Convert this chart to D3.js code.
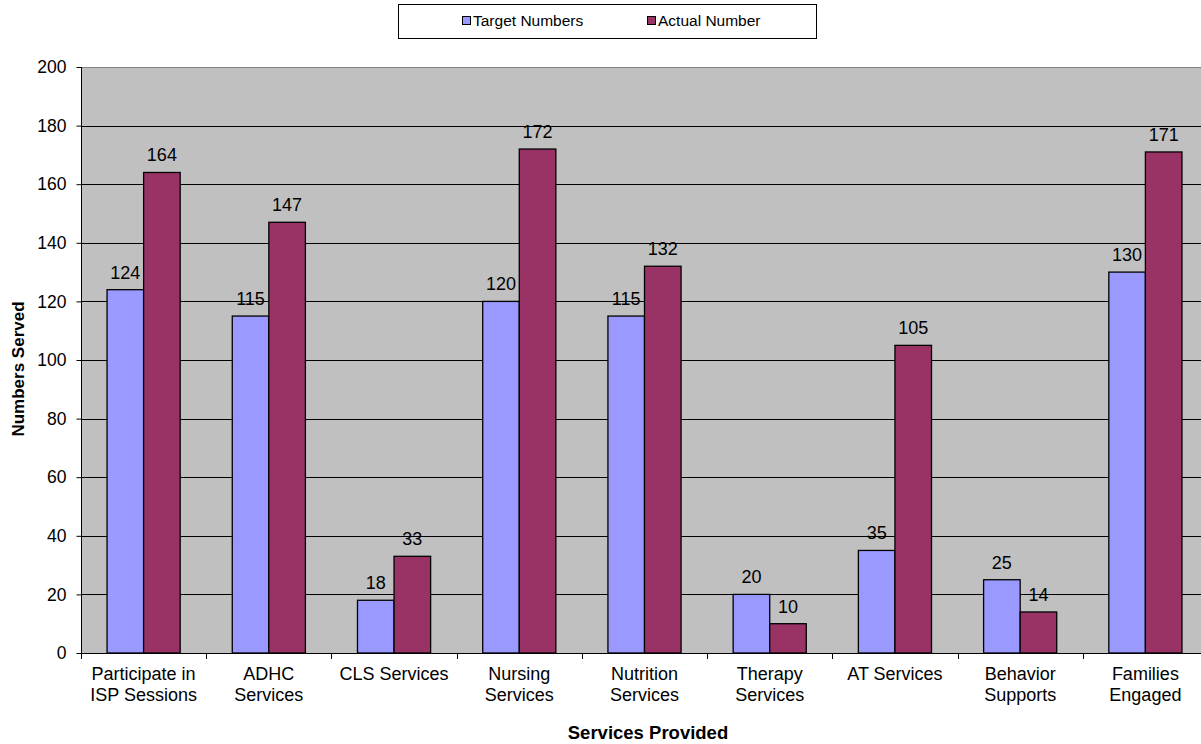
<!DOCTYPE html>
<html>
<head>
<script src="https://d3js.org/d3.v7.min.js"></script>
<style>
  body { margin: 0; background: #fff; }
  text { font-family: "Liberation Sans", Arial, sans-serif; }
</style>
</head>
<body>
<svg id="chart" width="1201" height="744"></svg>
<script>
const categories = [
  ["Participate in", "ISP Sessions"],
  ["ADHC", "Services"],
  ["CLS Services"],
  ["Nursing", "Services"],
  ["Nutrition", "Services"],
  ["Therapy", "Services"],
  ["AT Services"],
  ["Behavior", "Supports"],
  ["Families", "Engaged"]
];
const targetNumbers = [124, 115, 18, 120, 115, 20, 35, 25, 130];
const actualNumbers = [164, 147, 33, 172, 132, 10, 105, 14, 171];
const seriesNames = ["Target Numbers", "Actual Number"];
const seriesColors = ["#9999FF", "#993366"];
const yTicks = d3.range(0, 201, 20);

const svg = d3.select("#chart");
const margin = {left: 81, top: 67, right: 1208, bottom: 653};

const x = d3.scaleBand()
  .domain(d3.range(categories.length))
  .range([margin.left, margin.right]);
const y = d3.scaleLinear().domain([0, 200]).range([margin.bottom, margin.top]);

const barW = x.bandwidth() * 0.292;
const gap = (x.bandwidth() - 2 * barW) / 2;

// plot background
svg.append("rect")
  .attr("x", margin.left).attr("y", margin.top)
  .attr("width", margin.right - margin.left)
  .attr("height", margin.bottom - margin.top)
  .attr("fill", "#C0C0C0");

// gridlines
svg.append("g").selectAll("line").data(yTicks.filter(d => d > 0))
  .join("line")
  .attr("x1", margin.left).attr("x2", margin.right)
  .attr("y1", d => Math.round(y(d)) + 0.5).attr("y2", d => Math.round(y(d)) + 0.5)
  .attr("stroke", d => d === 200 ? "#808080" : "#000")
  .attr("stroke-width", 1);

// bars
const series = [targetNumbers, actualNumbers];
series.forEach((vals, s) => {
  const g = svg.append("g");
  g.selectAll("rect").data(vals).join("rect")
    .attr("x", (d, i) => x(i) + gap + s * barW)
    .attr("y", d => y(d))
    .attr("width", barW)
    .attr("height", d => y(0) - y(d))
    .attr("fill", seriesColors[s])
    .attr("stroke", "#000")
    .attr("stroke-width", 1.3);
  g.selectAll("text").data(vals).join("text")
    .attr("x", (d, i) => x(i) + gap + s * barW + barW / 2)
    .attr("y", d => y(d) - 11)
    .attr("text-anchor", "middle")
    .attr("font-size", 18)
    .attr("fill", "#000")
    .text(d => d);
});

// y axis
const yAxis = svg.append("g")
  .attr("transform", `translate(${margin.left + 0.5},0)`)
  .call(d3.axisLeft(y).tickValues(yTicks).tickSize(5).tickPadding(10));
yAxis.select(".domain").attr("stroke", "#000").attr("d", `M0,${margin.top}V${margin.bottom}`);
yAxis.selectAll(".tick line").attr("stroke", "#000");
yAxis.selectAll(".tick text").attr("font-size", 17.5).attr("fill", "#000")
  .attr("font-family", "Liberation Sans, Arial, sans-serif");

// x axis
const xAxisG = svg.append("g");
xAxisG.append("line")
  .attr("x1", margin.left).attr("x2", margin.right)
  .attr("y1", margin.bottom + 0.5).attr("y2", margin.bottom + 0.5)
  .attr("stroke", "#000");
xAxisG.selectAll("line.tk").data(d3.range(categories.length + 1))
  .join("line").attr("class", "tk")
  .attr("x1", i => Math.round(margin.left + i * x.step()) + 0.5)
  .attr("x2", i => Math.round(margin.left + i * x.step()) + 0.5)
  .attr("y1", margin.bottom).attr("y2", margin.bottom + 6)
  .attr("stroke", "#000");
xAxisG.selectAll("text").data(categories).join("text")
  .attr("x", (d, i) => x(i) + x.bandwidth() / 2)
  .attr("y", 680)
  .attr("text-anchor", "middle")
  .attr("font-size", 18)
  .attr("fill", "#000")
  .selectAll("tspan").data(d => d).join("tspan")
  .attr("x", function() { return d3.select(this.parentNode).attr("x"); })
  .attr("dy", (d, i) => i === 0 ? 0 : 21)
  .text(d => d);

// axis titles
svg.append("text")
  .attr("x", 648).attr("y", 739)
  .attr("text-anchor", "middle")
  .attr("font-size", 18.5).attr("font-weight", "bold")
  .text("Services Provided");
svg.append("text")
  .attr("transform", "translate(24,369) rotate(-90)")
  .attr("text-anchor", "middle")
  .attr("font-size", 17).attr("font-weight", "bold")
  .text("Numbers Served");

// legend
const legend = svg.append("g");
legend.append("rect")
  .attr("x", 398.5).attr("y", 4.5).attr("width", 418).attr("height", 34)
  .attr("fill", "#fff").attr("stroke", "#000");
const legendX = [462, 647];
seriesNames.forEach((name, s) => {
  legend.append("rect")
    .attr("x", legendX[s] + 0.5).attr("y", 16.5).attr("width", 8).attr("height", 8)
    .attr("fill", seriesColors[s]).attr("stroke", "#000");
  legend.append("text")
    .attr("x", legendX[s] + 11).attr("y", 26)
    .attr("font-size", 15.5)
    .text(name);
});
</script>
</body>
</html>
